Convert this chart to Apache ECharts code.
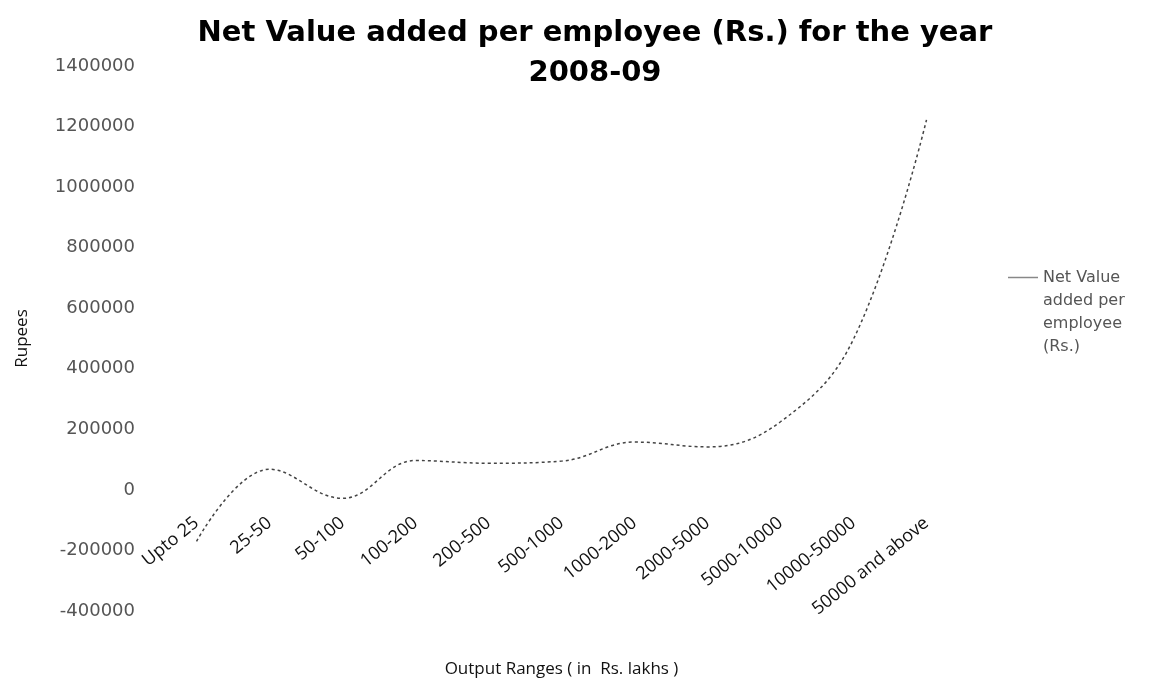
<!DOCTYPE html>
<html>
<head>
<meta charset="utf-8">
<style>
html, body { margin: 0; padding: 0; background: #fff; }
#main { width: 1153px; height: 692px; }
</style>
<script src="https://cdn.jsdelivr.net/npm/echarts@6/dist/echarts.min.js"></script>
</head>
<body>
<div id="main"></div>
<script>
// categories (output ranges, Rs. lakhs)
var categories = ['Upto 25', '25-50', '50-100', '100-200', '200-500', '500-1000',
    '1000-2000', '2000-5000', '5000-10000', '10000-50000', '50000 and above'];
// net value added per employee (Rs.)
var netValue = [-170000, 68000, -28000, 97000, 88000, 95000,
    158000, 142000, 225000, 498000, 1222000];
var seriesName = 'Net Value added per employee (Rs.)';
var legendLines = ['Net Value', 'added per', 'employee', '(Rs.)'];

var gridTop = 66, gridHeight = 545;
var yMin = -400000, yMax = 1400000;
// distance from grid bottom up to the zero line, so the category axis sits on 0
var zeroOffset = gridHeight * (0 - yMin) / (yMax - yMin);

var myChart = echarts.init(document.getElementById('main'));
myChart.setOption({
    animation: false,
    title: {
        text: 'Net Value added per employee (Rs.) for the year\n2008-09',
        left: 590,
        textAlign: 'center',
        top: 8,
        textStyle: {
            fontFamily: 'DejaVu Sans',
            fontWeight: 'bold',
            fontSize: 29,
            lineHeight: 40,
            color: '#000'
        }
    },
    legend: {
        left: 1003,
        top: 192,
        orient: 'vertical',
        icon: 'rect',
        itemWidth: 30,
        itemHeight: 1.5,
        itemStyle: { color: '#888' },
        textStyle: {
            fontFamily: 'DejaVu Sans',
            fontSize: 16,
            lineHeight: 23,
            color: '#555'
        },
        // blank lines on top keep the first text line level with the icon
        formatter: function () {
            return '\n\n\n' + legendLines.join('\n');
        },
        data: [seriesName]
    },
    grid: {
        left: 160,
        width: 803,
        top: gridTop,
        height: gridHeight,
        outerBoundsMode: 'none'
    },
    xAxis: {
        type: 'category',
        data: categories,
        boundaryGap: true,
        position: 'bottom',
        offset: -zeroOffset,
        axisLine: { show: false, onZero: false },
        axisTick: { show: false },
        splitLine: { show: false },
        axisLabel: {
            rotate: 39,
            margin: 31,
            interval: 0,
            fontFamily: 'Open Sans',
            fontSize: 18,
            color: '#111'
        },
        name: 'Output Ranges ( in  Rs. lakhs )',
        nameLocation: 'middle',
        nameGap: 171,
        nameTextStyle: {
            fontFamily: 'Open Sans',
            fontSize: 17,
            color: '#111'
        }
    },
    yAxis: {
        type: 'value',
        min: yMin,
        max: yMax,
        interval: 200000,
        axisLine: { show: false },
        axisTick: { show: false },
        splitLine: { show: false },
        axisLabel: {
            margin: 25,
            fontFamily: 'DejaVu Sans',
            fontSize: 18,
            color: '#555',
            formatter: function (v) { return String(v); }
        },
        name: 'Rupees',
        nameLocation: 'middle',
        nameGap: 129,
        nameTextStyle: {
            fontFamily: 'Open Sans',
            fontSize: 17,
            color: '#111'
        }
    },
    series: [{
        name: seriesName,
        type: 'line',
        data: netValue,
        smooth: 0.4,
        symbol: 'none',
        lineStyle: {
            color: '#444',
            width: 1.5,
            type: [3, 3]
        },
        itemStyle: { color: '#444' }
    }]
});
</script>
</body>
</html>
